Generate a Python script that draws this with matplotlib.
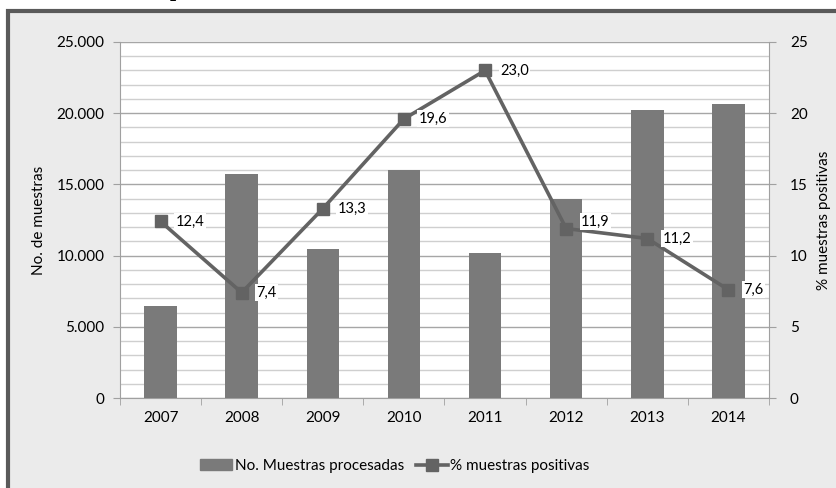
import matplotlib
matplotlib.use("Agg")
import matplotlib.pyplot as plt
from matplotlib.patches import Rectangle
from matplotlib.lines import Line2D
from matplotlib.ticker import MultipleLocator, FuncFormatter
import numpy as np

years = ["2007", "2008", "2009", "2010", "2011", "2012", "2013", "2014"]
muestras = [6450, 15700, 10450, 16000, 10150, 14000, 20200, 20650]
positivas = [12.4, 7.4, 13.3, 19.6, 23.0, 11.9, 11.2, 7.6]
left_ticks = [0, 5000, 10000, 15000, 20000, 25000]
right_ticks = [0, 5, 10, 15, 20, 25]

FONT = ["Lato", "DejaVu Sans"]
plt.rcParams['font.family'] = FONT

W, H = 837, 488
fig = plt.figure(figsize=(W / 100, H / 100), dpi=100)
fig.patch.set_facecolor("white")

# chart frame
frame = Rectangle((8.5 / W, -0.05), 1.2, (H - 11) / H + 0.05,
                  transform=fig.transFigure, facecolor="#ebebeb",
                  edgecolor="#5a5a5a", lw=3, zorder=-10)
fig.add_artist(frame)
# clipped title fragment
fig.text(176 / W, 1 + 4 / H, "p", family=["Liberation Serif"], fontweight="bold",
         fontsize=16, ha="center", va="baseline", zorder=-5)

ax = fig.add_axes([120 / W, 1 - 398 / H, (769 - 120) / W, (398 - 42) / H])
ax.set_facecolor("white")
x = np.arange(len(years))
bar_color = "#7a7a7a"
line_color = "#636363"

ax.bar(x, muestras, width=0.4, color=bar_color, zorder=3)
ax.set_xlim(-0.5, len(years) - 0.5)
ax.set_ylim(0, 25000)
ax.set_yticks(left_ticks)
ax.yaxis.set_minor_locator(MultipleLocator(1000))
ax.yaxis.set_major_formatter(FuncFormatter(lambda v, p: f"{int(v):,}".replace(",", ".")))
ax.grid(axis="y", which="minor", color="#cfcfcf", lw=1, zorder=0)
ax.grid(axis="y", which="major", color="#a6a6a6", lw=1, zorder=1)
ax.set_axisbelow(True)
ax.set_xticks(x)
ax.set_xticklabels(years)
ax.set_xticks(np.arange(-0.5, len(years)), minor=True)
ax.tick_params(axis="x", which="major", length=0, labelsize=11, pad=9)
ax.tick_params(axis="x", which="minor", length=5, color="#a0a0a0", direction="out")
ax.tick_params(axis="y", which="major", length=5, color="#a0a0a0", labelsize=11, pad=6)
ax.tick_params(axis="y", which="minor", length=0)
for s in ["top", "right"]:
    ax.spines[s].set_visible(False)
for s in ["left", "bottom"]:
    ax.spines[s].set_color("#a0a0a0")
ax.set_ylabel("No. de muestras", fontsize=11, labelpad=8)

ax2 = ax.twinx()
ax2.set_ylim(0, 25)
ax2.set_yticks(right_ticks)
ax2.plot(x, positivas, color=line_color, lw=2.6, marker="s", markersize=9,
         markerfacecolor=line_color, markeredgecolor=line_color, zorder=4)
ax2.tick_params(axis="y", length=5, color="#a0a0a0", labelsize=11, pad=10)
for s in ["top", "left", "bottom"]:
    ax2.spines[s].set_visible(False)
ax2.spines["right"].set_color("#a0a0a0")
ax2.set_ylabel("% muestras positivas", fontsize=11, labelpad=7)

dy = [0, 0, 0, 0, 0, 7, 0, 0]
for xi, v, d in zip(x, positivas, dy):
    ax2.annotate(f"{v:.1f}".replace(".", ","), (xi, v), xytext=(15, d),
                 textcoords="offset pixels",
                 ha="left", va="center", fontsize=10.5, zorder=5,
                 bbox=dict(boxstyle="square,pad=0.1", fc="white", ec="none"))

handles = [Rectangle((0, 0), 1, 1, color=bar_color),
           Line2D([0], [0], color=line_color, lw=2.6, marker="s", markersize=8)]
fig.legend(handles, ["No. Muestras procesadas", "% muestras positivas"],
           loc="center", bbox_to_anchor=(395 / W, 1 - 466 / H), ncol=2,
           frameon=False, fontsize=11, handlelength=2.1, handletextpad=0.15,
           columnspacing=0.8)

fig.savefig("out.png", dpi=100)
